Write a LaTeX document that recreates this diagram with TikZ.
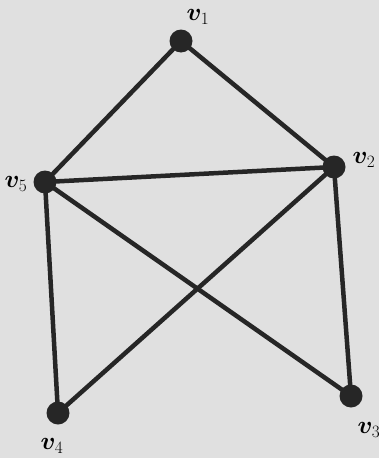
\documentclass[tikz,border=0pt]{standalone}
\usepackage{bm}
\begin{document}
\begin{tikzpicture}[x=1pt,y=-1pt,
  vtx/.style={circle,fill=black!85,inner sep=0pt,minimum size=23pt},
  lbl/.style={font=\fontsize{27}{30}\selectfont,inner sep=0pt},
  edge/.style={line width=4.5pt,draw=black!85}]
\fill[black!12] (0,0) rectangle (379,458);
\useasboundingbox (0,0) rectangle (379,458);
\node[vtx] (v1) at (181,41) {};
\node[vtx] (v2) at (334,167) {};
\node[vtx] (v3) at (351,396) {};
\node[vtx] (v4) at (58,413) {};
\node[vtx] (v5) at (45,182) {};
\node[lbl] (l1) at (198,17) {$\bm{v}_1$};
\node[lbl] (l2) at (364,160) {$\bm{v}_2$};
\node[lbl] (l3) at (369,430) {$\bm{v}_3$};
\node[lbl] (l4) at (52,446) {$\bm{v}_4$};
\node[lbl] (l5) at (16,184) {$\bm{v}_5$};
\draw[edge] (v1.center) -- (v5.center);
\draw[edge] (v1.center) -- (v2.center);
\draw[edge] (v5.center) -- (v2.center);
\draw[edge] (v5.center) -- (v4.center);
\draw[edge] (v2.center) -- (v3.center);
\draw[edge] (v5.center) -- (v3.center);
\draw[edge] (v2.center) -- (v4.center);
\end{tikzpicture}
\end{document}
